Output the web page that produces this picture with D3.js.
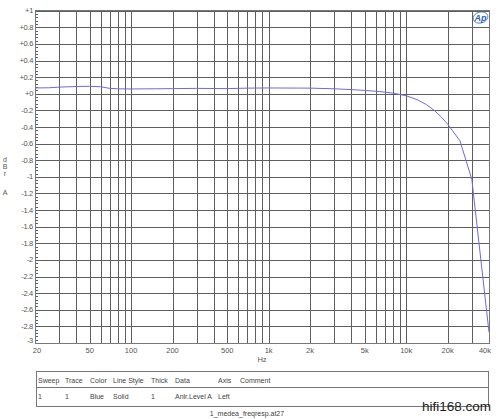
<!DOCTYPE html>
<html><head><meta charset="utf-8">
<script src="https://cdn.jsdelivr.net/npm/d3@7"></script>
<style>
html,body{margin:0;padding:0;background:#fff;}
svg{display:block;}
text{font-family:"Liberation Sans",Arial,sans-serif;}
</style></head>
<body>
<script>
// ---- data ----
const freqs = [20,25,30,40,50,60,70,80,100,150,200,300,500,700,1000,2000,3000,4000,5000,6000,7000,8000,10000,12000,14000,16000,18000,20000,24600,30000,40000];
const levels = [0.07,0.072,0.08,0.088,0.09,0.085,0.065,0.06,0.058,0.06,0.062,0.065,0.062,0.068,0.07,0.068,0.06,0.05,0.04,0.03,0.02,0.008,-0.024,-0.07,-0.13,-0.2,-0.28,-0.365,-0.566,-1.03,-2.87];
const xTickVals = [20,50,100,200,500,1000,2000,5000,10000,20000,40000];
const xTickLabels = ["20","50","100","200","500","1k","2k","5k","10k","20k","40k"];
const yTickVals = [1,0.8,0.6,0.4,0.2,0,-0.2,-0.4,-0.6,-0.8,-1,-1.2,-1.4,-1.6,-1.8,-2,-2.2,-2.4,-2.6,-2.8,-3];
const yTickLabels = ["+1","+0.8","+0.6","+0.4","+0.2","+0","-0.2","-0.4","-0.6","-0.8","-1","-1.2","-1.4","-1.6","-1.8","-2","-2.2","-2.4","-2.6","-2.8","-3"];
const gridFreqs = [20,30,40,50,60,70,80,90,100,200,300,400,500,600,700,800,900,1000,2000,3000,4000,5000,6000,7000,8000,9000,10000,20000,30000,40000];
const legendHeaders = ["Sweep","Trace","Color","Line Style","Thick","Data","Axis","Comment"];
const legendRow = ["1","1","Blue","Solid","1","Anlr.Level A","Left",""];

// ---- layout ----
const W=500,H=419;
const L=35,R=489,T=10.7,B=343;
const svg=d3.select("body").append("svg").attr("width",W).attr("height",H);
const x=d3.scaleLog().domain([20,40000]).range([L,R]);
const y=d3.scaleLinear().domain([-3,1]).range([B,T]);
const gridCol="#5e5e5e", txtCol="#555";

// grid
svg.append("g").selectAll("line").data(gridFreqs).join("line")
  .attr("x1",d=>Math.round(x(d))+0.5).attr("x2",d=>Math.round(x(d))+0.5)
  .attr("y1",T).attr("y2",B).attr("stroke",gridCol).attr("stroke-width",1);
svg.append("g").selectAll("line").data(yTickVals).join("line")
  .attr("x1",L).attr("x2",R)
  .attr("y1",d=>Math.round(y(d))+0.5).attr("y2",d=>Math.round(y(d))+0.5)
  .attr("stroke",gridCol).attr("stroke-width",1);
// minor ticks on left axis
const minor=d3.range(-3,1.0001,0.04);
svg.append("g").selectAll("line").data(minor).join("line")
  .attr("x1",L).attr("x2",L+3)
  .attr("y1",d=>Math.round(y(d))+0.5).attr("y2",d=>Math.round(y(d))+0.5)
  .attr("stroke",gridCol).attr("stroke-width",1);
// border
svg.append("rect").attr("x",L+0.5).attr("y",Math.round(T)-0.5).attr("width",R-L).attr("height",Math.round(B)-Math.round(T)+1)
  .attr("fill","none").attr("stroke","#777").attr("stroke-width",1);

// y tick labels
svg.append("g").selectAll("text").data(yTickVals).join("text")
  .attr("x",33).attr("y",(d,i)=>y(d)+(i===yTickVals.length-1?0:2.5))
  .attr("text-anchor","end").attr("font-size",7.5).attr("fill",txtCol)
  .attr("letter-spacing","-0.3")
  .text((d,i)=>yTickLabels[i]);
// x tick labels
svg.append("g").selectAll("text").data(xTickVals).join("text")
  .attr("x",(d,i)=>x(d)+(i===0?2:(i===xTickVals.length-1?-4:0))).attr("y",353)
  .attr("text-anchor","middle").attr("font-size",7.5).attr("fill",txtCol)
  .text((d,i)=>xTickLabels[i]);
svg.append("text").attr("x",262).attr("y",362).attr("text-anchor","middle")
  .attr("font-size",7.5).attr("fill",txtCol).text("Hz");
// y axis title (stacked letters)
const yTitle=[["d",162],["B",169],["r",176],["A",195]];
svg.append("g").selectAll("text").data(yTitle).join("text")
  .attr("x",5).attr("y",d=>d[1]).attr("text-anchor","middle")
  .attr("font-size",7).attr("fill",txtCol).text(d=>d[0]);

// curve
const line=d3.line().x((d,i)=>x(freqs[i])).y(d=>y(d));
svg.append("path").datum(levels).attr("d",line)
  .attr("fill","none").attr("stroke","#6b6be0").attr("stroke-width",1);

// AP logo
const lg=svg.append("g").attr("transform","translate(480.5,17.5)");
lg.append("ellipse").attr("rx",7.5).attr("ry",5.5).attr("fill","none")
  .attr("stroke","#3d6fc4").attr("stroke-width",0.8).attr("transform","rotate(-15)");
lg.append("text").attr("x",0).attr("y",3).attr("text-anchor","middle")
  .attr("font-size",9).attr("font-style","italic").attr("font-weight","bold")
  .attr("fill","#2f5fb8").text("Ap");

// legend table
const tx=36.5, ty=371.5, tw=452, th=35, mid=387.5;
svg.append("rect").attr("x",tx).attr("y",ty).attr("width",tw).attr("height",th)
  .attr("fill","none").attr("stroke","#777").attr("stroke-width",1);
svg.append("line").attr("x1",tx).attr("x2",tx+tw).attr("y1",mid).attr("y2",mid)
  .attr("stroke","#777").attr("stroke-width",1);
const colX=[38,65,90,113,151,175,218,240];
svg.append("g").selectAll("text").data(legendHeaders).join("text")
  .attr("x",(d,i)=>colX[i]).attr("y",382.5).attr("font-size",7).attr("fill","#444").text(d=>d);
svg.append("g").selectAll("text").data(legendRow).join("text")
  .attr("x",(d,i)=>colX[i]).attr("y",398.5).attr("font-size",7).attr("fill","#444").text(d=>d);
svg.append("text").attr("x",247).attr("y",416).attr("text-anchor","middle")
  .attr("font-size",7).attr("fill","#444").text("1_medea_freqresp.at27");

// watermark
svg.append("text").attr("x",491).attr("y",411).attr("text-anchor","end")
  .attr("font-size",13.5).attr("fill","#222").text("hifi168.com");
</script>
</body></html>
